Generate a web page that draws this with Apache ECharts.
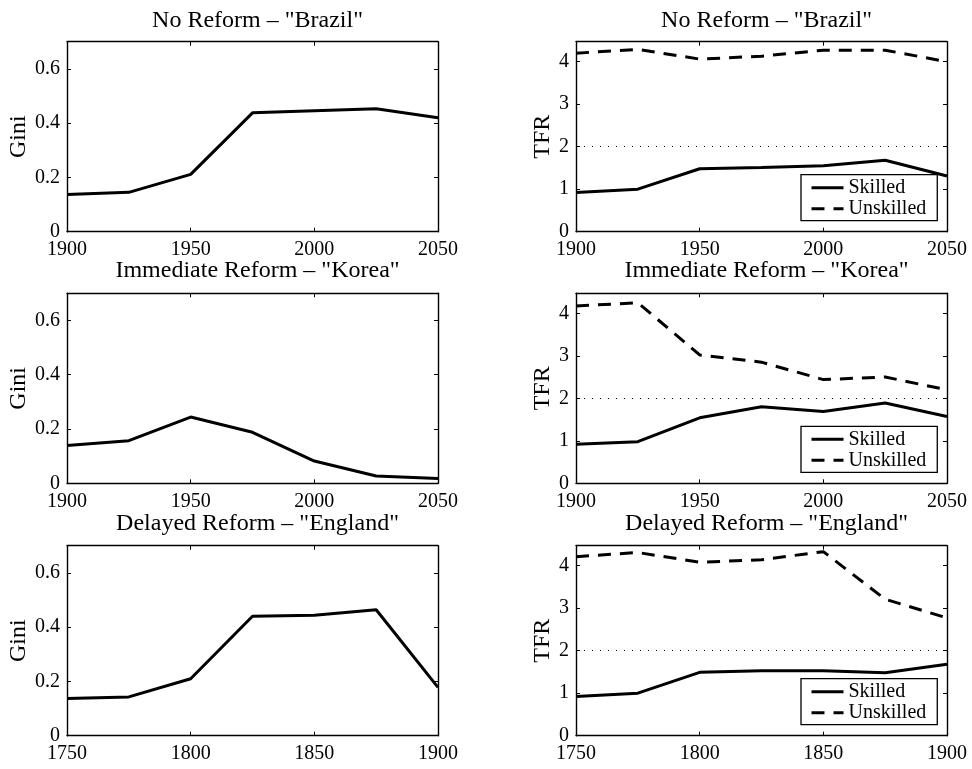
<!DOCTYPE html>
<html>
<head>
<meta charset="utf-8">
<script src="https://cdn.jsdelivr.net/npm/echarts@6/dist/echarts.min.js"></script>
<style>html,body{margin:0;padding:0;background:#fff}#c{width:972px;height:769px}</style>
</head>
<body>
<div id="c"></div>
<script>
// ---- data ----
const yearsModern = [1900, 1925, 1950, 1975, 2000, 2025, 2050];
const yearsEngland = [1750, 1775, 1800, 1825, 1850, 1875, 1900];

const titles = ['No Reform \u2013 "Brazil"', 'Immediate Reform \u2013 "Korea"', 'Delayed Reform \u2013 "England"'];

const giniBrazil  = [0.137, 0.145, 0.211, 0.438, 0.446, 0.453, 0.420];
const giniKorea   = [0.139, 0.157, 0.244, 0.188, 0.082, 0.027, 0.018];
const giniEngland = [0.137, 0.143, 0.210, 0.440, 0.444, 0.464, 0.178];

const tfrSkilledBrazil    = [0.92, 1.00, 1.48, 1.51, 1.55, 1.68, 1.31];
const tfrUnskilledBrazil  = [4.20, 4.29, 4.06, 4.13, 4.27, 4.27, 4.00];
const tfrSkilledKorea     = [0.92, 0.98, 1.54, 1.80, 1.69, 1.89, 1.57];
const tfrUnskilledKorea   = [4.17, 4.25, 3.02, 2.85, 2.44, 2.50, 2.20];
const tfrSkilledEngland   = [0.92, 1.00, 1.49, 1.53, 1.53, 1.48, 1.68];
const tfrUnskilledEngland = [4.21, 4.31, 4.08, 4.14, 4.33, 3.21, 2.77];

const replacementTFR = 2;

// ---- layout ----
const FONT = '"Liberation Serif", "Times New Roman", serif';
const rowTops = [41.7, 293.3, 545.7];
const rowH = 190;
const colLeft = [67, 576];
const colW = 371;
const titleTops = [3.5, 254, 506.5];

const rows = [
  {years: yearsModern, gini: giniBrazil, sk: tfrSkilledBrazil, un: tfrUnskilledBrazil},
  {years: yearsModern, gini: giniKorea, sk: tfrSkilledKorea, un: tfrUnskilledKorea},
  {years: yearsEngland, gini: giniEngland, sk: tfrSkilledEngland, un: tfrUnskilledEngland}
];

const pair = (xs, ys) => xs.map((x, i) => [x, ys[i]]);

const grid = [], xAxis = [], yAxis = [], series = [], title = [], legend = [];
const axisLine = {show: true, onZero: false, lineStyle: {color: '#000', width: 1.4}};
const tickIn = {show: true, inside: true, length: 4, lineStyle: {color: '#000', width: 1}};
const lbl = {color: '#000', fontFamily: FONT, fontSize: 20};

rows.forEach((r, ri) => {
  for (let ci = 0; ci < 2; ci++) {
    const gi = grid.length;
    grid.push({left: colLeft[ci], top: rowTops[ri], width: colW, height: rowH, containLabel: false});
    title.push({
      text: titles[ri], left: colLeft[ci] + colW / 2, top: titleTops[ri], textAlign: 'center',
      textStyle: {fontFamily: FONT, fontSize: 24, fontWeight: 'normal', color: '#000'}
    });
    const xmin = r.years[0], xmax = r.years[r.years.length - 1];
    const xb = xAxis.length;
    xAxis.push({type: 'value', gridIndex: gi, min: xmin, max: xmax, interval: 50, position: 'bottom',
      axisLine, axisTick: tickIn, splitLine: {show: false},
      axisLabel: Object.assign({margin: 8, formatter: v => String(v)}, lbl)});
    xAxis.push({type: 'value', gridIndex: gi, min: xmin, max: xmax, interval: 50, position: 'top',
      axisLine, axisTick: tickIn, splitLine: {show: false}, axisLabel: {show: false}});
    const yb = yAxis.length;
    const isGini = ci === 0;
    yAxis.push({type: 'value', gridIndex: gi, min: 0, max: isGini ? 0.7 : 4.47, interval: isGini ? 0.2 : 1,
      position: 'left', axisLine, axisTick: tickIn, splitLine: {show: false},
      name: isGini ? 'Gini' : 'TFR', nameLocation: 'middle', nameGap: isGini ? 36 : 19, nameRotate: 90,
      nameTextStyle: {fontFamily: FONT, fontSize: 24, color: '#000'},
      axisLabel: Object.assign({margin: 7, showMaxLabel: false}, lbl)});
    yAxis.push({type: 'value', gridIndex: gi, min: 0, max: isGini ? 0.7 : 4.47, interval: isGini ? 0.2 : 1,
      position: 'right', axisLine, axisTick: tickIn, splitLine: {show: false}, axisLabel: {show: false}});
    if (isGini) {
      series.push({type: 'line', name: 'Gini', xAxisIndex: xb, yAxisIndex: yb, data: pair(r.years, r.gini),
        symbol: 'none', lineStyle: {color: '#000', width: 3}, silent: true, animation: false});
    } else {
      series.push({type: 'line', name: 'Skilled', xAxisIndex: xb, yAxisIndex: yb, data: pair(r.years, r.sk),
        symbol: 'none', lineStyle: {color: '#000', width: 3}, itemStyle: {color: '#000'}, animation: false,
        markLine: {silent: true, symbol: 'none', label: {show: false}, animation: false,
          lineStyle: {color: '#000', width: 1, type: [1, 7]}, data: [{yAxis: replacementTFR}]}});
      series.push({type: 'line', name: 'Unskilled', xAxisIndex: xb, yAxisIndex: yb, data: pair(r.years, r.un),
        symbol: 'none', lineStyle: {color: '#000', width: 3, type: [13, 9]}, itemStyle: {color: '#000'}, animation: false});
      legend.push({
        data: ['Skilled', 'Unskilled'], orient: 'vertical', left: 801, top: rowTops[ri] + 133,
        itemWidth: 32, itemHeight: 14, itemGap: 1, padding: [3, 11, 2, 9],
        borderColor: '#000', borderWidth: 1.3, backgroundColor: '#fff', selectedMode: false,
        itemStyle: {opacity: 0, borderWidth: 0},
        lineStyle: {width: 3, color: '#000'},
        textStyle: {fontFamily: FONT, fontSize: 20, color: '#000'}
      });
    }
  }
});

const chart = echarts.init(document.getElementById('c'), null, {renderer: 'canvas'});
chart.setOption({animation: false, backgroundColor: '#fff', title, grid, xAxis, yAxis, series, legend});
</script>
</body>
</html>
